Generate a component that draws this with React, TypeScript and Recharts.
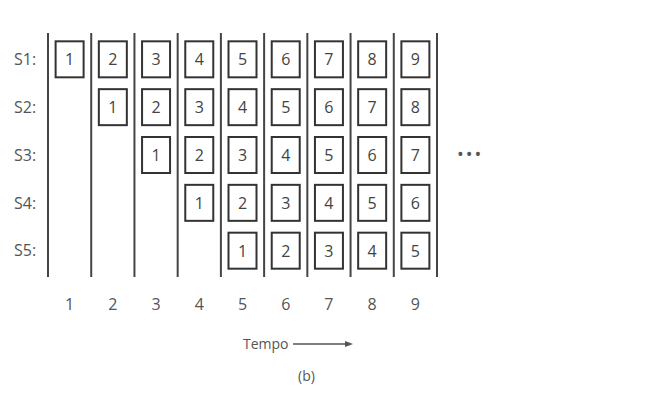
import React from 'react';
import { ScatterChart, Scatter, XAxis, YAxis, ReferenceLine } from 'recharts';

// time slots along the bottom
const tempos = [1, 2, 3, 4, 5, 6, 7, 8, 9];
const stages = ['S1:', 'S2:', 'S3:', 'S4:', 'S5:'];

// instruction number held by each stage, per time slot (null = empty)
const s1 = [1, 2, 3, 4, 5, 6, 7, 8, 9];
const s2 = [null, 1, 2, 3, 4, 5, 6, 7, 8];
const s3 = [null, null, 1, 2, 3, 4, 5, 6, 7];
const s4 = [null, null, null, 1, 2, 3, 4, 5, 6];
const s5 = [null, null, null, null, 1, 2, 3, 4, 5];
const rows = [s1, s2, s3, s4, s5];

const dividers = [0.5, 1.5, 2.5, 3.5, 4.5, 5.5, 6.5, 7.5, 8.5, 9.5];

const cells = rows.flatMap((row, si) =>
  row.map((n, ti) => (n == null ? null : { x: tempos[ti], y: si + 1, n })).filter(Boolean)
) as { x: number; y: number; n: number }[];

const font = '"Open Sans", sans-serif';

const Box = (props: any) => {
  const { cx, cy, payload } = props;
  return (
    <g>
      <rect x={cx - 14} y={cy - 18} width={28} height={36} fill="#fff" stroke="#333" strokeWidth={2} />
      <text x={cx} y={cy + 6} textAnchor="middle" fontSize={16} fill="#444" fontFamily={font}>
        {payload.n}
      </text>
    </g>
  );
};

export default function App() {
  return (
    <div style={{ margin: -8, position: 'relative', width: 663, height: 405, background: '#fff', fontFamily: font }}>
      <ScatterChart width={663} height={405} margin={{ top: 33, right: 226, bottom: 98, left: 8 }}>
        <XAxis
          type="number"
          dataKey="x"
          domain={[0.5, 9.5]}
          ticks={tempos}
          axisLine={false}
          tickLine={false}
          height={30}
          tick={{ fontSize: 16, fill: '#555', fontFamily: font, dy: 14 }}
        />
        <YAxis
          type="number"
          dataKey="y"
          domain={[0.45, 5.55]}
          ticks={[1, 2, 3, 4, 5]}
          reversed
          axisLine={false}
          tickLine={false}
          width={40}
          tickFormatter={(v: number) => stages[v - 1]}
          tick={{ fontSize: 16, fill: '#555', fontFamily: font, textAnchor: 'start', dx: -26 }}
        />
        {dividers.map((d) => (
          <ReferenceLine key={d} x={d} stroke="#444" strokeWidth={2} />
        ))}
        <Scatter data={cells} shape={<Box />} isAnimationActive={false} />
      </ScatterChart>
      <div style={{ position: 'absolute', left: 457, top: 142, fontSize: 18, color: '#555', letterSpacing: 2 }}>•••</div>
      <div style={{ position: 'absolute', left: 243, top: 334, fontSize: 14, color: '#555', display: 'flex', alignItems: 'center' }}>
        Tempo
        <svg width={60} height={10} style={{ marginLeft: 4 }}>
          <line x1={0} y1={5} x2={52} y2={5} stroke="#555" strokeWidth={1.5} />
          <polygon points="52,2 60,5 52,8" fill="#555" />
        </svg>
      </div>
      <div style={{ position: 'absolute', left: 298, top: 366, fontSize: 14, color: '#555' }}>(b)</div>
    </div>
  );
}
